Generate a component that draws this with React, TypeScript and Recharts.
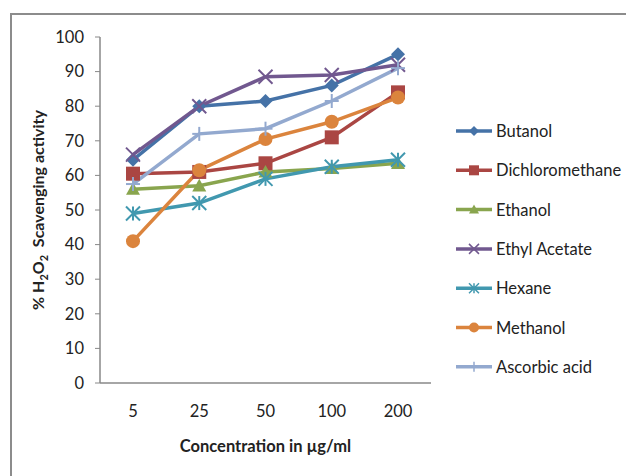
import React from 'react';
import { Line, LineChart, XAxis, YAxis } from 'recharts';

// Concentrations (µg/ml) on the category axis
const concentrations = ['5', '25', '50', '100', '200'];

// % H2O2 scavenging activity per extract
const butanol = [64.5, 80, 81.5, 86, 95];
const dichloromethane = [60.5, 61, 63.5, 71, 84];
const ethanol = [56, 57, 61, 62, 63.5];
const ethylAcetate = [66, 80, 88.5, 89, 92];
const hexane = [49, 52, 59, 62.5, 64.5];
const methanol = [41, 61.5, 70.5, 75.5, 82.5];
const ascorbicAcid = [57.5, 72, 73.5, 81.5, 91];

const yTicks = [0, 10, 20, 30, 40, 50, 60, 70, 80, 90, 100];

const FONT = 'Lato, "Open Sans", sans-serif';

const series = [
  { key: 'Butanol', values: butanol, color: '#4572A7', shape: 'diamond' },
  { key: 'Dichloromethane', values: dichloromethane, color: '#AA4643', shape: 'square' },
  { key: 'Ethanol', values: ethanol, color: '#89A54E', shape: 'triangle' },
  { key: 'Ethyl Acetate', values: ethylAcetate, color: '#71588F', shape: 'x' },
  { key: 'Hexane', values: hexane, color: '#4198AF', shape: 'star' },
  { key: 'Methanol', values: methanol, color: '#DB843D', shape: 'circle' },
  { key: 'Ascorbic acid', values: ascorbicAcid, color: '#93A9CF', shape: 'plus' },
];

const data = concentrations.map((c, i) => {
  const row: any = { conc: c };
  series.forEach((s) => {
    row[s.key] = s.values[i];
  });
  return row;
});

// marker drawing shared by the lines and the legend
const Marker = ({ shape, cx, cy, color, size = 6, sw = 1.5 }: any) => {
  const r = size;
  switch (shape) {
    case 'diamond':
      return (
        <polygon
          points={`${cx},${cy - r} ${cx + r},${cy} ${cx},${cy + r} ${cx - r},${cy}`}
          fill={color}
        />
      );
    case 'square':
      return <rect x={cx - r} y={cy - r} width={r * 2} height={r * 2} fill={color} />;
    case 'triangle':
      return (
        <polygon
          points={`${cx},${cy - r} ${cx + r},${cy + r * 0.8} ${cx - r},${cy + r * 0.8}`}
          fill={color}
        />
      );
    case 'circle':
      return <circle cx={cx} cy={cy} r={r} fill={color} />;
    case 'x':
      return (
        <g stroke={color} strokeWidth={sw}>
          <line x1={cx - r} y1={cy - r} x2={cx + r} y2={cy + r} />
          <line x1={cx - r} y1={cy + r} x2={cx + r} y2={cy - r} />
        </g>
      );
    case 'star':
      return (
        <g stroke={color} strokeWidth={sw}>
          <line x1={cx - r} y1={cy - r} x2={cx + r} y2={cy + r} />
          <line x1={cx - r} y1={cy + r} x2={cx + r} y2={cy - r} />
          <line x1={cx} y1={cy - r} x2={cx} y2={cy + r} />
        </g>
      );
    case 'plus':
      return (
        <g stroke={color} strokeWidth={sw}>
          <line x1={cx} y1={cy - r} x2={cx} y2={cy + r} />
          <line x1={cx - r} y1={cy} x2={cx + r} y2={cy} />
        </g>
      );
    default:
      return null;
  }
};

const makeDot = (shape: string, color: string) => (props: any) => {
  const { cx, cy, index } = props;
  if (cx == null || cy == null) return <g key={index} />;
  return (
    <g key={`${shape}-${index}`}>
      <Marker shape={shape} cx={cx} cy={cy} color={color} size={7} sw={2} />
    </g>
  );
};

const SideLegend = () => (
  <svg
    width={170}
    height={270}
    style={{ position: 'absolute', left: 456, top: 123, overflow: 'visible' }}
  >
    {series.map((s, i) => {
      const y = 8 + i * 39.3;
      return (
        <g key={s.key}>
          <line x1={0} y1={y} x2={36} y2={y} stroke={s.color} strokeWidth={3.5} />
          <Marker shape={s.shape} cx={18} cy={y} color={s.color} size={5} />
          <text x={40} y={y + 6} fontFamily={FONT} fontSize={16.5} fill="#222">
            {s.key}
          </text>
        </g>
      );
    })}
  </svg>
);

const YLabel = ({ viewBox }: any) => {
  const cx = 44;
  const cy = viewBox ? viewBox.y + viewBox.height / 2 : 210;
  return (
    <text
      x={cx}
      y={cy}
      transform={`rotate(-90, ${cx}, ${cy})`}
      textAnchor="middle"
      fontFamily={FONT}
      fontSize={16}
      fontWeight={700}
      style={{ fontWeight: 700 }}
      fill="#222"
    >
      % H
      <tspan fontSize={11} fontWeight={700} dy={4}>2</tspan>
      <tspan fontWeight={700} dy={-4}>O</tspan>
      <tspan fontSize={11} fontWeight={700} dy={4}>2</tspan>
      <tspan fontWeight={700} dy={-4}>{'\u00a0\u00a0'}Scavenging activity</tspan>
    </text>
  );
};

export default function App() {
  return (
    <div
      style={{
        position: 'fixed',
        left: 0,
        top: 0,
        width: 626,
        height: 476,
        background: '#fff',
        overflow: 'hidden',
      }}
    >
      <div
        style={{
          position: 'absolute',
          left: 10,
          top: 13,
          width: 640,
          height: 500,
          borderTop: '2px solid #8c8c8c',
          borderLeft: '2px solid #8c8c8c',
        }}
      />
      <div style={{ position: 'absolute', left: 0, top: 0 }}>
        <LineChart
          width={626}
          height={476}
          data={data}
          margin={{ top: 37, right: 195, bottom: 53, left: 40 }}
        >
          <XAxis
            dataKey="conc"
            height={40}
            padding={{ left: 33, right: 33 }}
            tickLine={false}
            axisLine={{ stroke: '#888', strokeWidth: 1.5 }}
            tickMargin={16}
            tick={{ fontFamily: FONT, fontSize: 16.5, fill: '#222' }}
            label={{
              value: 'Concentration in \u00b5g/ml',
              position: 'insideBottom',
              offset: -29,
              style: { fontFamily: FONT, fontSize: 16.5, fontWeight: 700, fill: '#222' },
            }}
          />
          <YAxis
            width={60}
            domain={[0, 100]}
            ticks={yTicks}
            interval={0}
            tickSize={5}
            tickMargin={11}
            tickLine={{ stroke: '#888' }}
            axisLine={{ stroke: '#888', strokeWidth: 1.5 }}
            tick={{ fontFamily: FONT, fontSize: 16.5, fill: '#222' }}
            label={<YLabel />}
          />
          {series.map((s) => (
            <Line
              key={s.key}
              type="linear"
              dataKey={s.key}
              stroke={s.color}
              strokeWidth={3.5}
              dot={makeDot(s.shape, s.color)}
              activeDot={false}
              isAnimationActive={false}
            />
          ))}
        </LineChart>
      </div>
      <SideLegend />
    </div>
  );
}
